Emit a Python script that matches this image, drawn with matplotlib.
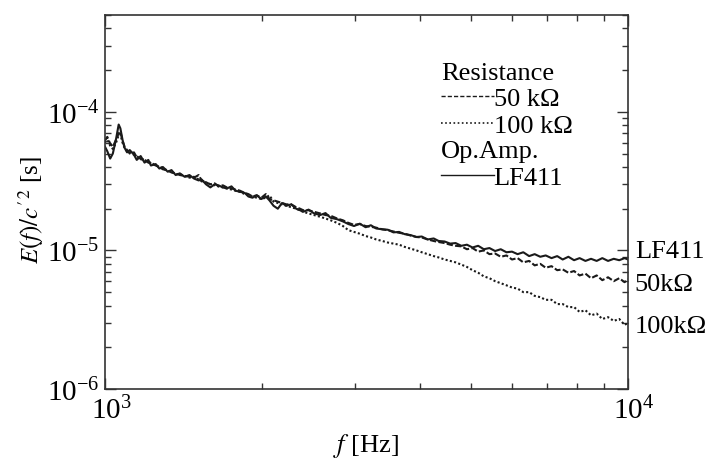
import numpy as np
import matplotlib
matplotlib.use("Agg")
import matplotlib.pyplot as plt
from matplotlib.lines import Line2D
from matplotlib.ticker import LogLocator, NullFormatter
import matplotlib.transforms as mtransforms

plt.rcParams['font.family'] = ['Liberation Serif', 'DejaVu Serif']
plt.rcParams['mathtext.fontset'] = 'stix'
plt.rcParams['axes.unicode_minus'] = False

# frequency [Hz]
freq = [1000, 1010, 1023, 1035, 1050, 1062, 1070, 1080, 1090, 1102,
        1115, 1136, 1150, 1170, 1190, 1210, 1224, 1250, 1270, 1290,
        1318, 1340, 1365, 1390, 1420, 1450, 1480, 1510, 1530, 1560,
        1590, 1620, 1648, 1680, 1710, 1745, 1776, 1810, 1850, 1880,
        1914, 1950, 1990, 2030, 2062, 2100, 2140, 2180, 2222, 2270,
        2320, 2360, 2393, 2450, 2510, 2578, 2640, 2700, 2778, 2850,
        2920, 2993, 3070, 3150, 3223, 3300, 3390, 3474, 3560, 3650,
        3742, 3840, 3940, 4033, 4140, 4250, 4344, 4460, 4570, 4681,
        4800, 4920, 5043, 5170, 5300, 5433, 5570, 5710, 5855, 6000,
        6150, 6306, 6470, 6630, 6795, 6960, 7140, 7321, 7500, 7690,
        7885, 8080, 8290, 8497, 8710, 8930, 9158, 9390, 9620, 9850, 10000]

# E(f)/c'^2 in units of 1e-5 s
lf411 = [5.6, 5.2, 4.6, 5.0, 6.4, 8.1, 7.6, 6.3, 5.5, 5.1,
         5.3, 4.9, 4.5, 4.8, 4.3, 4.5, 4.1, 4.2, 3.9, 4.0,
         3.7, 3.8, 3.5, 3.6, 3.4, 3.5, 3.3, 3.2, 3.25, 3.0,
         2.85, 3.0, 2.95, 2.85, 2.8, 2.9, 2.7, 2.65, 2.6, 2.45,
         2.4, 2.5, 2.35, 2.45, 2.3, 2.1, 2.0, 2.2, 2.1, 2.15,
         2.0, 1.95, 1.9, 1.97, 1.85, 1.8, 1.86, 1.72, 1.68, 1.62,
         1.55, 1.5, 1.56, 1.47, 1.52, 1.44, 1.42, 1.41, 1.35, 1.36,
         1.31, 1.29, 1.25, 1.26, 1.2, 1.22, 1.17, 1.16, 1.12, 1.13,
         1.08, 1.1, 1.05, 1.08, 1.02, 1.04, 0.99, 1.02, 0.97, 0.98,
         0.94, 0.97, 0.91, 0.94, 0.9, 0.92, 0.88, 0.91, 0.86, 0.9,
         0.85, 0.88, 0.84, 0.87, 0.84, 0.88, 0.84, 0.87, 0.85, 0.88, 0.86]

r50k = [6.2, 6.6, 5.9, 5.6, 6.3, 7.0, 7.2, 6.2, 5.6, 5.3,
        5.0, 5.1, 4.7, 4.6, 4.5, 4.3, 4.25, 4.1, 4.0, 3.85,
        3.8, 3.65, 3.6, 3.5, 3.45, 3.4, 3.35, 3.5, 3.2, 3.1,
        3.0, 3.05, 2.9, 2.95, 2.85, 2.8, 2.75, 2.7, 2.6, 2.55,
        2.45, 2.5, 2.4, 2.55, 2.35, 2.3, 2.25, 2.2, 2.15, 2.15,
        2.05, 2.0, 1.95, 1.95, 1.9, 1.85, 1.8, 1.78, 1.7, 1.65,
        1.58, 1.53, 1.55, 1.5, 1.48, 1.46, 1.42, 1.4, 1.37, 1.34,
        1.32, 1.28, 1.25, 1.24, 1.2, 1.17, 1.15, 1.13, 1.1, 1.08,
        1.07, 1.02, 1.04, 0.98, 1.0, 0.94, 0.95, 0.9, 0.92, 0.86,
        0.88, 0.82, 0.84, 0.78, 0.8, 0.75, 0.77, 0.72, 0.73, 0.69,
        0.71, 0.66, 0.68, 0.63, 0.66, 0.61, 0.64, 0.6, 0.63, 0.59, 0.62]

r100k = [6.0, 6.3, 5.7, 5.4, 6.0, 6.8, 6.9, 6.0, 5.5, 5.2,
         5.1, 4.9, 4.8, 4.55, 4.5, 4.35, 4.3, 4.1, 4.05, 3.9,
         3.75, 3.7, 3.55, 3.55, 3.45, 3.35, 3.4, 3.25, 3.15, 3.1,
         3.0, 2.95, 2.9, 2.85, 2.8, 2.75, 2.7, 2.65, 2.55, 2.5,
         2.45, 2.4, 2.35, 2.4, 2.5, 2.25, 2.2, 2.15, 2.1, 2.05,
         2.0, 1.95, 1.9, 1.85, 1.8, 1.75, 1.7, 1.65, 1.58, 1.5,
         1.4, 1.36, 1.32, 1.27, 1.24, 1.2, 1.17, 1.14, 1.12, 1.1,
         1.06, 1.03, 1.0, 0.97, 0.94, 0.91, 0.89, 0.86, 0.84, 0.82,
         0.79, 0.76, 0.72, 0.69, 0.65, 0.63, 0.6, 0.58, 0.56, 0.54,
         0.53, 0.5, 0.5, 0.47, 0.46, 0.44, 0.44, 0.41, 0.41, 0.39,
         0.39, 0.36, 0.37, 0.34, 0.35, 0.32, 0.33, 0.31, 0.32, 0.29, 0.3]

end_labels = ['LF411', '50k\u03a9', '100k\u03a9']
end_label_y = [9.9e-6, 5.7e-6, 2.85e-6]

f = np.array(freq)
scale = 1e-5
col = '#1a1a1a'

fig = plt.figure(figsize=(7.11, 4.64), dpi=100)
ax = fig.add_axes([0.1477, 0.1595, 0.7356, 0.806])

ax.plot(f, np.array(r100k) * scale, color=col, lw=1.5, ls=(0, (1, 1.1)))
ax.plot(f, np.array(r50k) * scale, color=col, lw=1.5, ls=(0, (3, 1.1)))
ax.plot(f, np.array(lf411) * scale, color=col, lw=1.5, ls='-')

ax.set_xscale('log')
ax.set_yscale('log')
ax.set_xlim(1e3, 1e4)
ax.set_ylim(1e-6, 5e-4)

ax.xaxis.set_minor_locator(LogLocator(base=10, subs=np.arange(2, 10)))
ax.yaxis.set_minor_locator(LogLocator(base=10, subs=np.arange(2, 10)))
ax.xaxis.set_minor_formatter(NullFormatter())
ax.yaxis.set_minor_formatter(NullFormatter())
ax.tick_params(which='both', direction='in', top=True, right=True, color='#333333')
ax.tick_params(which='major', length=8, width=1.0, labelsize=21)
ax.tick_params(axis='x', which='major', pad=5)
ax.tick_params(axis='y', which='major', pad=4)
ax.tick_params(which='minor', length=4.5, width=1.0)
for s in ax.spines.values():
    s.set_linewidth(1.2)
    s.set_color('#333333')

# the "10" of each x tick label sits centred on its tick
shift = mtransforms.ScaledTranslation(0.06, 0, fig.dpi_scale_trans)
for lab in ax.xaxis.get_majorticklabels():
    lab.set_transform(lab.get_transform() + shift)

ax.set_xlabel(r'$f$ [Hz]', fontsize=19)
ax.set_ylabel(r"$E(f)/c'^2$ [s]", fontsize=18)
ax.xaxis.set_label_coords(0.5, -0.112)
ax.yaxis.set_label_coords(-0.112, 0.48)

# legends
h50 = Line2D([], [], color=col, lw=1.0, ls=(0, (3, 1.5)))
h100 = Line2D([], [], color=col, lw=1.2, ls=(0, (1, 1.5)))
hlf = Line2D([], [], color=col, lw=1.0)
leg_kw = dict(loc='upper left', frameon=False, alignment='left', fontsize=19,
              title_fontsize=19, handlelength=2.0, handletextpad=0.0,
              borderpad=0, borderaxespad=0, labelspacing=0.12)
leg1 = ax.legend([h50, h100], ['50 k\u03a9', '100 k\u03a9'], title='Resistance',
                 bbox_to_anchor=(0.642, 0.875), **leg_kw)
ax.add_artist(leg1)
ax.legend([hlf], ['LF411'], title='Op.Amp.', bbox_to_anchor=(0.642, 0.665), **leg_kw)

trans = mtransforms.blended_transform_factory(ax.transAxes, ax.transData)
for lab, yv in zip(end_labels, end_label_y):
    ax.text(1.013, yv, lab, transform=trans, ha='left', va='center', fontsize=19)

fig.savefig('out.png', dpi=100)
